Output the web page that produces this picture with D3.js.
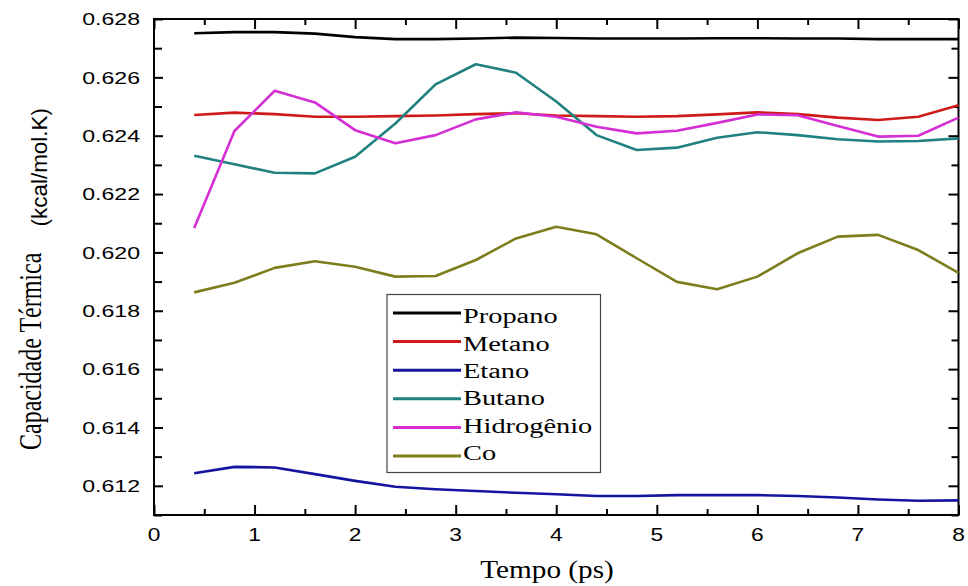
<!DOCTYPE html>
<html>
<head>
<meta charset="utf-8">
<script src="https://cdn.jsdelivr.net/npm/d3@7"></script>
<style>
  html, body { margin: 0; padding: 0; background: #fff; }
  svg { display: block; }
</style>
</head>
<body>
<svg id="chart" width="968" height="586"></svg>
<script>
// ---- data ----
const times = [0.4, 0.8, 1.2, 1.6, 2.0, 2.4, 2.8, 3.2, 3.6, 4.0, 4.4, 4.8, 5.2, 5.6, 6.0, 6.4, 6.8, 7.2, 7.6, 8.0];
const seriesNames = ["Propano", "Metano", "Etano", "Butano", "Hidrogênio", "Co"];
const propano = [0.62751, 0.62755, 0.62755, 0.62750, 0.62738, 0.62731, 0.62731, 0.62733, 0.62736, 0.62735, 0.62733, 0.62733, 0.62733, 0.62734, 0.62734, 0.62733, 0.62733, 0.62731, 0.62731, 0.62731];
const metano = [0.62471, 0.62479, 0.62474, 0.62465, 0.62465, 0.62467, 0.62469, 0.62474, 0.62477, 0.62469, 0.62467, 0.62465, 0.62467, 0.62473, 0.62480, 0.62474, 0.62462, 0.62454, 0.62465, 0.62504];
const etano = [0.61243, 0.61265, 0.61263, 0.61240, 0.61217, 0.61197, 0.61188, 0.61182, 0.61176, 0.61171, 0.61165, 0.61165, 0.61168, 0.61168, 0.61168, 0.61165, 0.61160, 0.61153, 0.61149, 0.61150];
const butano = [0.62331, 0.62302, 0.62273, 0.62271, 0.62328, 0.62442, 0.62576, 0.62645, 0.62616, 0.62517, 0.62402, 0.62351, 0.62359, 0.62393, 0.62412, 0.62402, 0.62388, 0.62380, 0.62382, 0.62391];
const hidrogenio = [0.62084, 0.62416, 0.62554, 0.62514, 0.62419, 0.62374, 0.62402, 0.62456, 0.62480, 0.62465, 0.62431, 0.62408, 0.62417, 0.62444, 0.62473, 0.62470, 0.62433, 0.62397, 0.62400, 0.62462];
const co = [0.61863, 0.61896, 0.61947, 0.61970, 0.61951, 0.61917, 0.61919, 0.61974, 0.62048, 0.62088, 0.62062, 0.61980, 0.61899, 0.61874, 0.61917, 0.61997, 0.62054, 0.62060, 0.62008, 0.61930];
const xTicks = [0, 1, 2, 3, 4, 5, 6, 7, 8];
const xMinorTicks = [0.5, 1.5, 2.5, 3.5, 4.5, 5.5, 6.5, 7.5];
const yTicks = [0.612, 0.614, 0.616, 0.618, 0.620, 0.622, 0.624, 0.626, 0.628];
const yMinorTicks = [0.611, 0.613, 0.615, 0.617, 0.619, 0.621, 0.623, 0.625, 0.627];
const xTitle = "Tempo (ps)";
const yTitleMain = "Capacidade Térmica";
const yTitleUnit = "(kcal/mol.K)";

// ---- styling ----
const colors = ["#000000", "#cf1a1a", "#1414a0", "#218080", "#d42ed4", "#7d7d1e"];
const values = [propano, metano, etano, butano, hidrogenio, co];

const svg = d3.select("#chart");
const L = 154, R = 958.5, T = 19, B = 515;
const x = d3.scaleLinear().domain([0, 8]).range([L, R]);
const y = d3.scaleLinear().domain([0.611, 0.628]).range([B, T]);

// ---- ticks (inward, all four sides) ----
function addAxis(gen, tx, ty) {
  const g = svg.append("g").attr("transform", `translate(${tx},${ty})`).call(gen);
  g.select(".domain").remove();
  g.selectAll(".tick line").attr("stroke", "#000").attr("stroke-width", 2);
  g.selectAll(".tick text").remove();
  return g;
}
addAxis(d3.axisBottom(x).tickValues(xTicks).tickSize(-10).tickFormat(""), 0, B);
addAxis(d3.axisBottom(x).tickValues(xMinorTicks).tickSize(-6).tickFormat(""), 0, B);
addAxis(d3.axisTop(x).tickValues(xTicks).tickSize(-10).tickFormat(""), 0, T);
addAxis(d3.axisTop(x).tickValues(xMinorTicks).tickSize(-6).tickFormat(""), 0, T);
addAxis(d3.axisLeft(y).tickValues(yTicks).tickSize(-9).tickFormat(""), L, 0);
addAxis(d3.axisLeft(y).tickValues(yMinorTicks).tickSize(-8).tickFormat(""), L, 0);
addAxis(d3.axisRight(y).tickValues(yTicks).tickSize(-10).tickFormat(""), R, 0);
addAxis(d3.axisRight(y).tickValues(yMinorTicks).tickSize(-7).tickFormat(""), R, 0);

// frame
svg.append("rect")
  .attr("x", L).attr("y", T).attr("width", R - L).attr("height", B - T)
  .attr("fill", "none").attr("stroke", "#000").attr("stroke-width", 2);

// ---- horizontally stretched text helper ----
function stretchedText(px, py, sx, txt, opts) {
  const g = svg.append("g").attr("transform", `translate(${px},${py}) scale(${sx},1)`);
  return g.append("text")
    .attr("x", 0).attr("y", 0)
    .attr("text-anchor", opts.anchor || "start")
    .attr("font-family", opts.family)
    .attr("font-size", opts.size)
    .attr("fill", "#000")
    .text(txt);
}

const fmt = d3.format(".3f");
yTicks.forEach(v => {
  stretchedText(140, y(v) + 6.2, 1.36, fmt(v), {anchor: "end", family: "'Liberation Sans', Arial, sans-serif", size: 17});
});
xTicks.forEach(v => {
  stretchedText(x(v), 541, 1.3, String(v), {anchor: "middle", family: "'Liberation Sans', Arial, sans-serif", size: 17.5});
});

stretchedText(547, 578, 1.17, xTitle, {anchor: "middle", family: "'Liberation Serif', 'Times New Roman', serif", size: 25});

// rotated y title: glyph height stretched in x
svg.append("g").attr("transform", "translate(40.5,450) scale(1.28,1) rotate(-90)")
  .append("text").attr("font-family", "'Liberation Serif', 'Times New Roman', serif")
  .attr("font-size", 24).attr("fill", "#000").text(yTitleMain);
svg.append("g").attr("transform", "translate(47,226.5) scale(1.2,1) rotate(-90)")
  .append("text").attr("font-family", "'Liberation Sans', Arial, sans-serif")
  .attr("font-size", 18).attr("fill", "#000")
  .attr("textLength", 118.5).attr("lengthAdjust", "spacingAndGlyphs")
  .text(yTitleUnit);

// ---- lines ----
const line = d3.line().x((d, i) => x(times[i])).y(d => y(d));
values.forEach((vals, k) => {
  svg.append("path")
    .datum(vals)
    .attr("d", line)
    .attr("fill", "none")
    .attr("stroke", colors[k])
    .attr("stroke-width", 2.6)
    .attr("stroke-linejoin", "round")
    .attr("stroke-linecap", "butt");
});

// ---- legend ----
const lg = svg.append("g");
lg.append("rect").attr("x", 387).attr("y", 294.5).attr("width", 213.5).attr("height", 178)
  .attr("fill", "#fff").attr("stroke", "#444").attr("stroke-width", 1.2);
seriesNames.forEach((name, i) => {
  const ly = 313 + 28.6 * i;
  lg.append("line").attr("x1", 393).attr("x2", 461).attr("y1", ly).attr("y2", ly)
    .attr("stroke", colors[i]).attr("stroke-width", 3);
  stretchedText(463, 323.3 + 27.3 * i, 1.42, name, {anchor: "start", family: "'Liberation Serif', 'Times New Roman', serif", size: 20});
});
</script>
</body>
</html>
